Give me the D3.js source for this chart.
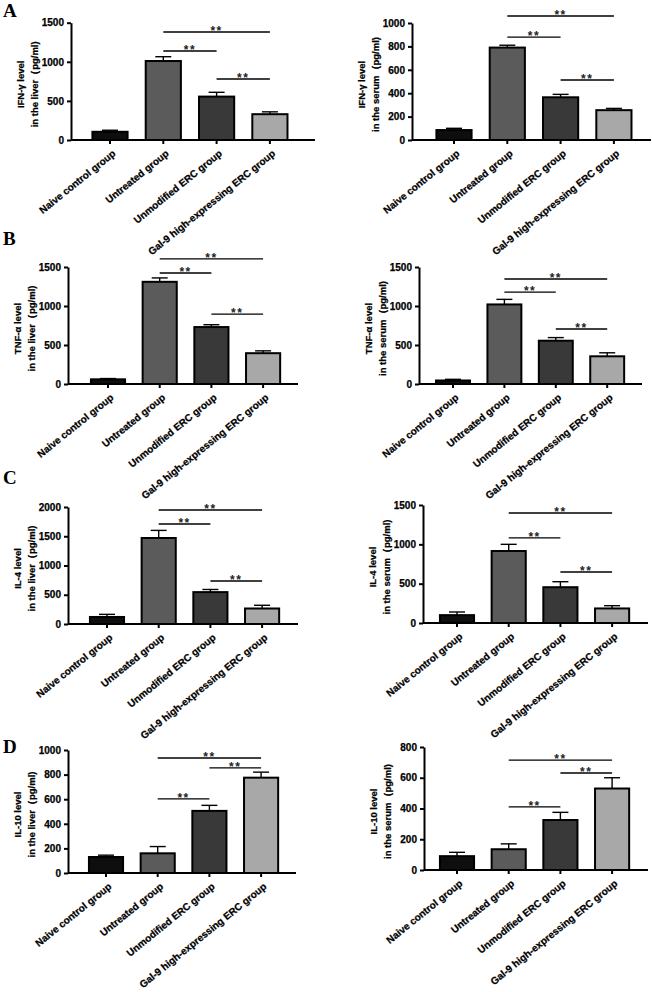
<!DOCTYPE html>
<html><head><meta charset="utf-8">
<script src="https://cdn.jsdelivr.net/npm/d3@7"></script>
<style>body{margin:0;background:#fff}svg{display:block}text{font-family:Arial,"Liberation Sans",sans-serif;font-weight:bold}.heavy{stroke:#000;stroke-width:0.25px}</style>
</head><body>
<script>
const categories = ["Naive control group","Untreated group","Unmodified ERC group","Gal-9 high-expressing ERC group"];
const barColors = ["#0e0e0e","#5b5b5b","#393939","#a8a8a8"];

const ifngLiver = [105,1010,555,330];      const ifngLiverErr = [20,55,55,30];
const ifngSerum = [85,790,365,255];        const ifngSerumErr = [15,20,25,15];
const tnfLiver = [60,1310,730,395];        const tnfLiverErr = [10,50,30,30];
const tnfSerum = [45,1020,555,355];        const tnfSerumErr = [15,65,40,45];
const il4Liver = [120,1470,545,265];       const il4LiverErr = [45,130,45,55];
const il4Serum = [100,915,455,185];        const il4SerumErr = [40,85,70,35];
const il10Liver = [130,160,505,775];       const il10LiverErr = [15,55,45,45];
const il10Serum = [90,135,325,530];        const il10SerumErr = [25,35,50,70];

const ifngLiverTicks = [0,500,1000,1500];
const ifngSerumTicks = [0,200,400,600,800,1000];
const tnfTicks = [0,500,1000,1500];
const il4LiverTicks = [0,500,1000,1500,2000];
const il4SerumTicks = [0,500,1000,1500];
const il10LiverTicks = [0,200,400,600,800,1000];
const il10SerumTicks = [0,200,400,600,800];

// significance brackets: [from index, to index, height in data units]
const sigIfngLiver = [[1,3,1381],[1,2,1138],[2,3,780]];
const sigIfngSerum = [[1,3,1060],[1,2,880],[2,3,513]];
const sigTnfLiver = [[1,3,1603],[1,2,1423],[2,3,897]];
const sigTnfSerum = [[1,3,1346],[1,2,1179],[2,3,705]];
const sigIl4Liver = [[1,3,1949],[1,2,1709],[2,3,735]];
const sigIl4Serum = [[1,3,1398],[1,2,1081],[2,3,648]];
const sigIl10Liver = [[1,3,935],[2,3,854],[1,2,602]];
const sigIl10Serum = [[1,3,715],[2,3,631],[1,2,410]];

const panels = [
 {v:ifngLiver,e:ifngLiverErr,t:ifngLiverTicks,s:sigIfngLiver,l1:"IFN-γ level",l2:"in the liver（pg/ml)",ax:71,top:22.7,y0:140,xe:315,c1:110,step:53.3,letter:"A",ly:17},
 {v:ifngSerum,e:ifngSerumErr,t:ifngSerumTicks,s:sigIfngSerum,l1:"IFN-γ level",l2:"in the serum（pg/ml)",ax:412,top:23,y0:140,xe:651,c1:454,step:53.3},
 {v:tnfLiver,e:tnfLiverErr,t:tnfTicks,s:sigTnfLiver,l1:"TNF-α level",l2:"in the liver（pg/ml)",ax:68,top:267,y0:384,xe:298,c1:108,step:51.7,letter:"B",ly:245},
 {v:tnfSerum,e:tnfSerumErr,t:tnfTicks,s:sigTnfSerum,l1:"TNF-α level",l2:"in the serum（pg/ml)",ax:419,top:267,y0:384,xe:642,c1:453,step:51.4},
 {v:il4Liver,e:il4LiverErr,t:il4LiverTicks,s:sigIl4Liver,l1:"IL-4 level",l2:"in the liver（pg/ml)",ax:68,top:507,y0:624,xe:298,c1:107,step:51.7,letter:"C",ly:484},
 {v:il4Serum,e:il4SerumErr,t:il4SerumTicks,s:sigIl4Serum,l1:"IL-4 level",l2:"in the serum（pg/ml)",ax:423,top:505,y0:623,xe:648,c1:457,step:51.7},
 {v:il10Liver,e:il10LiverErr,t:il10LiverTicks,s:sigIl10Liver,l1:"IL-10 level",l2:"in the liver（pg/ml)",ax:68,top:750,y0:873,xe:296,c1:106,step:51.7,letter:"D",ly:753},
 {v:il10Serum,e:il10SerumErr,t:il10SerumTicks,s:sigIl10Serum,l1:"IL-10 level",l2:"in the serum（pg/ml)",ax:424,top:747,y0:870,xe:648,c1:457,step:51.7}
];

const svg = d3.select("body").append("svg").attr("width",652).attr("height",992);

panels.forEach(p=>{
  const g = svg.append("g");
  const y = d3.scaleLinear().domain([0,d3.max(p.t)]).range([p.y0,p.top]);
  const x = d3.scaleBand().domain(categories)
     .range([p.c1 - p.step/2, p.c1 + 3.5*p.step]).paddingInner(0.34).paddingOuter(0.17);
  const bw = x.bandwidth();
  const cx = c => x(c) + bw/2;

  // error bars (up only)
  categories.forEach((c,i)=>{
    const top = y(p.v[i]+p.e[i]);
    g.append("line").attr("x1",cx(c)).attr("x2",cx(c)).attr("y1",y(p.v[i])).attr("y2",top)
      .attr("stroke","#000").attr("stroke-width",1.4);
    g.append("line").attr("x1",cx(c)-8).attr("x2",cx(c)+8).attr("y1",top).attr("y2",top)
      .attr("stroke","#000").attr("stroke-width",1.4);
  });
  // bars
  g.selectAll("rect.bar").data(categories).join("rect")
    .attr("x",c=>x(c)).attr("width",bw)
    .attr("y",(c,i)=>y(p.v[i])).attr("height",(c,i)=>p.y0-y(p.v[i]))
    .attr("fill",(c,i)=>barColors[i]).attr("stroke","#000").attr("stroke-width",2);

  // y axis
  const ya = g.append("g").attr("transform",`translate(${p.ax},0)`)
    .call(d3.axisLeft(y).tickValues(p.t).tickFormat(d3.format("d")).tickSize(4).tickSizeOuter(0).tickPadding(3));
  ya.select(".domain").attr("stroke-width",2);
  ya.selectAll(".tick line").attr("stroke-width",2);
  ya.selectAll("text").attr("font-size",10).attr("fill","#000").attr("class","heavy");

  // x axis
  const xa = g.append("g").attr("transform",`translate(0,${p.y0})`)
    .call(d3.axisBottom(x).tickSize(4).tickSizeOuter(0).tickFormat(""));
  xa.select(".domain").attr("d",`M${p.ax},0H${p.xe}`).attr("stroke-width",2);
  xa.selectAll(".tick line").attr("stroke-width",2);
  categories.forEach(c=>{
    g.append("text").attr("class","heavy").attr("transform",`translate(${cx(c)+4},${p.y0+12}) rotate(-39)`)
      .attr("text-anchor","end").attr("font-size",10).attr("dy","0.35em").text(c);
  });

  // y title
  const ymid = (p.top+p.y0)/2 + 3;
  g.append("text").attr("class","heavy").attr("transform",`translate(${p.ax-51},${ymid}) rotate(-90)`)
    .attr("text-anchor","middle").attr("dominant-baseline","central").attr("font-size",9.5).text(p.l1);
  g.append("text").attr("class","heavy").attr("transform",`translate(${p.ax-37},${ymid}) rotate(-90)`)
    .attr("text-anchor","middle").attr("dominant-baseline","central").attr("font-size",9.5).text(p.l2);

  // significance
  p.s.forEach(([a,b,h])=>{
    const yy = y(h);
    const xa1 = cx(categories[a]), xb = cx(categories[b]);
    g.append("line").attr("x1",xa1).attr("x2",xb).attr("y1",yy).attr("y2",yy)
      .attr("stroke","#000").attr("stroke-width",1.3);
    g.append("text").attr("x",(xa1+xb)/2).attr("y",yy+3).attr("text-anchor","middle")
      .attr("font-size",12).attr("letter-spacing",1.5).attr("fill","#222").text("**");
  });

  if(p.letter){
    svg.append("text").attr("x",3).attr("y",p.ly)
      .style("font-family","'Liberation Serif','Times New Roman',serif")
      .style("font-size","19px").style("font-weight","bold").text(p.letter);
  }
});
</script>
</body></html>
